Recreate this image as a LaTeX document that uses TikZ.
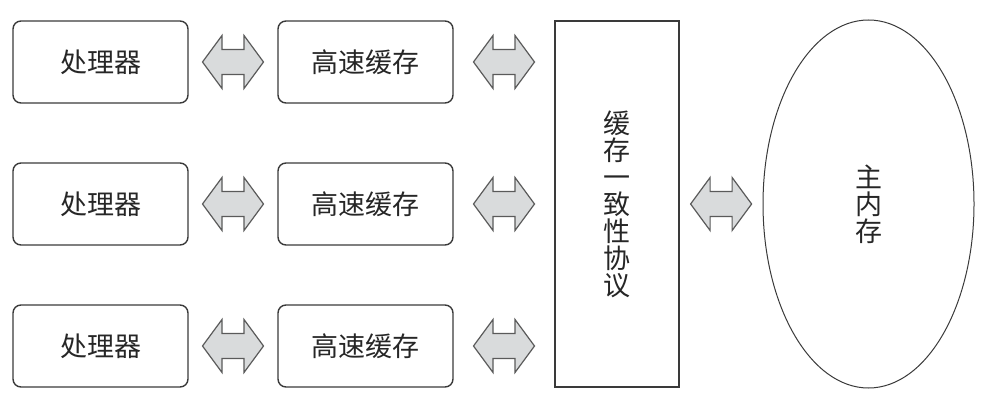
\documentclass[tikz,border=0pt]{standalone}
\usepackage{fontspec}
\newfontfamily\cjk{Noto Sans CJK SC}
\usepackage{tikz}
\usetikzlibrary{shapes.geometric,calc}
\definecolor{boxline}{HTML}{3A3A3A}
\definecolor{arrowfill}{HTML}{D9DBDC}
\definecolor{arrowline}{HTML}{5A5A5A}
\tikzset{
  unit/.style={draw=boxline, line width=0.7pt, rounded corners=4pt,
    minimum width=87.5pt, minimum height=41pt, inner sep=0pt,
    font=\cjk\fontsize{13.5}{13.5}\selectfont, text=black!85},
  proto/.style={draw=boxline, line width=0.7pt, minimum width=62pt,
    minimum height=183pt, inner sep=0pt, align=center,
    font=\cjk\fontsize{13.5}{13.5}\selectfont, text=black!85},
  memory/.style={ellipse, draw=boxline, line width=0.5pt, minimum width=105.5pt,
    minimum height=184pt, inner sep=0pt, align=center,
    font=\cjk\fontsize{13.5}{13.5}\selectfont, text=black!85},
  fatarrow/.pic={
    \draw[draw=arrowline, fill=arrowfill, line width=0.6pt, line join=miter]
      (-30.5,0) -- (-11,-26.5) -- (-11,-12.5) -- (11,-12.5) -- (11,-26.5)
      -- (30.5,0) -- (11,26.5) -- (11,12.5) -- (-11,12.5) -- (-11,26.5) -- cycle;
  }
}

\begin{document}
\begin{tikzpicture}[x=0.5pt,y=-0.5pt]
\useasboundingbox (0,0) rectangle (1000,406);

% processors and their caches
\foreach \r/\y in {1/62,2/204,3/346} {
  \node[unit] (p\r) at (100.5,\y) {处理器};
  \node[unit] (c\r) at (365.5,\y) {高速缓存};
}

\node[proto] (coh) at (617,204) {缓\\存\\一\\致\\性\\协\\议};
\node[memory] (mem) at (868.5,204) {主\\内\\存};

% fat double arrows
\foreach \r in {1,2,3} {
  \pic (pc\r) at ($(p\r.east)!0.5!(c\r.west)$) {fatarrow};
  \pic (cx\r) at ($(c\r.east)!0.5!(coh.west |- c\r.east)$) {fatarrow};
}
\pic (xm) at ($(coh.east)!0.5!(mem.west)$) {fatarrow};

\end{tikzpicture}
\end{document}
